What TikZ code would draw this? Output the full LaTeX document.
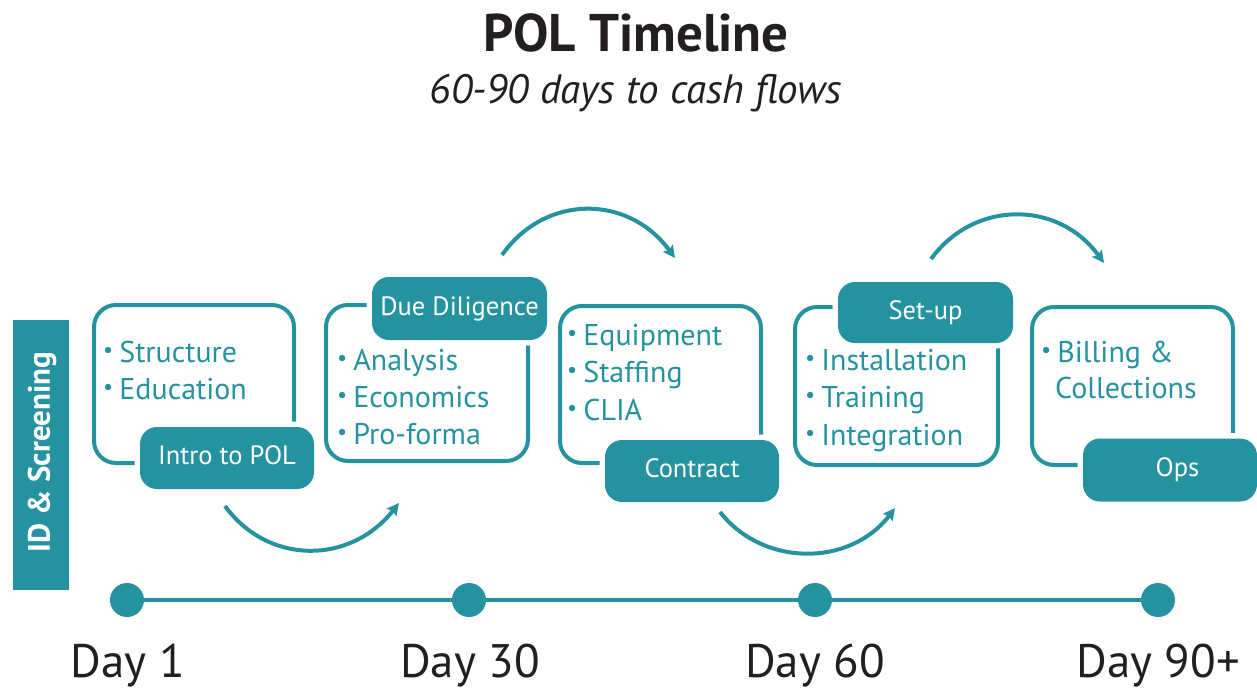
\documentclass[tikz,border=0pt]{standalone}
\usepackage{fontspec}
\setmainfont{PT Sans}
\usepackage{graphicx}
\usetikzlibrary{arrows.meta}
\definecolor{polteal}{RGB}{37,146,160}
\definecolor{ink}{RGB}{35,31,32}
\newcommand{\bul}{\raisebox{0.16em}{\scalebox{0.75}{\textbullet}}\hspace{0.2em}}
\begin{document}
\begin{tikzpicture}[x=1pt,y=-1pt,
  outbox/.style={draw=polteal, line width=4pt, rounded corners=22pt, inner sep=0pt},
  tag/.style={fill=polteal, preaction={draw=white, line width=11pt}, rounded corners=17pt, inner sep=0pt, text=white, font=\fontsize{26.5}{30}\selectfont, text height=1.35em, text depth=0pt},
  item/.style={anchor=base west, inner sep=0pt, text=polteal, font=\fontsize{30}{34}\selectfont},
  flow/.style={draw=polteal, line width=4pt, -{Stealth[length=12pt,width=12pt,inset=2pt]}},
  dot/.style={circle, fill=polteal, minimum size=34pt, inner sep=0pt},
  day/.style={anchor=base, inner sep=0pt, text=ink, font=\fontsize{47}{50}\selectfont}]
\useasboundingbox (0,0) rectangle (1257,688);

% title
\node[anchor=base, inner sep=0pt, text=ink, font={\fontsize{53}{58}\selectfont\bfseries}] (title) at (636,51) {POL Timeline};
\node[anchor=base, inner sep=0pt, text=ink, font={\fontsize{41}{46}\selectfont\itshape}] (subtitle) at (636,103) {60-90 days to cash flows};

% side bar
\node[fill=polteal, minimum width=56pt, minimum height=270pt, inner sep=0pt] (bar) at (41,455) {};
\node[rotate=90, text=white, font={\fontsize{31}{34}\selectfont\bfseries}, inner sep=0pt] (barlabel) at (42,452) {ID \& Screening};

% outline boxes
\node[outbox, minimum width=200pt, minimum height=158pt] (box1) at (194,384) {};
\node[outbox, minimum width=202pt, minimum height=156pt] (box2) at (427,383) {};
\node[outbox, minimum width=201pt, minimum height=157pt] (box3) at (660.5,384.5) {};
\node[outbox, minimum width=203pt, minimum height=158pt] (box4) at (896.5,386) {};
\node[outbox, minimum width=201pt, minimum height=158pt] (box5) at (1132.5,386) {};

% tags
\node[tag, minimum width=174pt, minimum height=62pt] (tag1) at (227,458) {Intro to POL};
\node[tag, minimum width=175pt, minimum height=63pt] (tag2) at (459.5,308.5) {Due Diligence};
\node[tag, minimum width=174pt, minimum height=62pt] (tag3) at (692,471) {Contract};
\node[tag, minimum width=175pt, minimum height=61pt] (tag4) at (925.5,312.5) {Set-up};
\node[tag, minimum width=174pt, minimum height=63pt] (tag5) at (1170,470) {\hspace*{15pt}Ops};

% items
\node[item] (i11) at (103,362) {\bul Structure};
\node[item] (i12) at (103,399) {\bul Education};
\node[item] (i21) at (337,370) {\bul Analysis};
\node[item] (i22) at (337,407) {\bul Economics};
\node[item] (i23) at (337,444) {\bul Pro-forma};
\node[item] (i31) at (567,345) {\bul Equipment};
\node[item] (i32) at (567,382) {\bul Staffing};
\node[item] (i33) at (567,420) {\bul CLIA};
\node[item] (i41) at (805,370) {\bul Installation};
\node[item] (i42) at (805,407) {\bul Training};
\node[item] (i43) at (805,445) {\bul Integration};
\node[item] (i51) at (1041,362) {\bul Billing \&};
\node[item] (i52) at (1055,398) {Collections};

% flow arrows
\coordinate (f1s) at (225,506); \coordinate (f1e) at (399,503);
\coordinate (f2s) at (502,255); \coordinate (f2e) at (675,258);
\coordinate (f3s) at (720,512); \coordinate (f3e) at (895,508);
\coordinate (f4s) at (931,259); \coordinate (f4e) at (1104,263);
\draw[flow] (f1s) .. controls (268,565) and (350,565) .. (f1e);
\draw[flow] (f2s) .. controls (545,194) and (628,194) .. (f2e);
\draw[flow] (f3s) .. controls (763,567) and (850,567) .. (f3e);
\draw[flow] (f4s) .. controls (974,200) and (1058,200) .. (f4e);

% timeline
\node[dot] (d1) at (127,600) {};
\node[dot] (d2) at (469,600) {};
\node[dot] (d3) at (815,600) {};
\node[dot] (d4) at (1158,600) {};
\draw[polteal, line width=3.5pt] (d1) -- (d2) -- (d3) -- (d4);

\node[day] (day1) at (128,677) {Day 1};
\node[day] (day30) at (470,677) {Day 30};
\node[day] (day60) at (815,677) {Day 60};
\node[day] (day90) at (1158,677) {Day 90+};
\end{tikzpicture}
\end{document}
